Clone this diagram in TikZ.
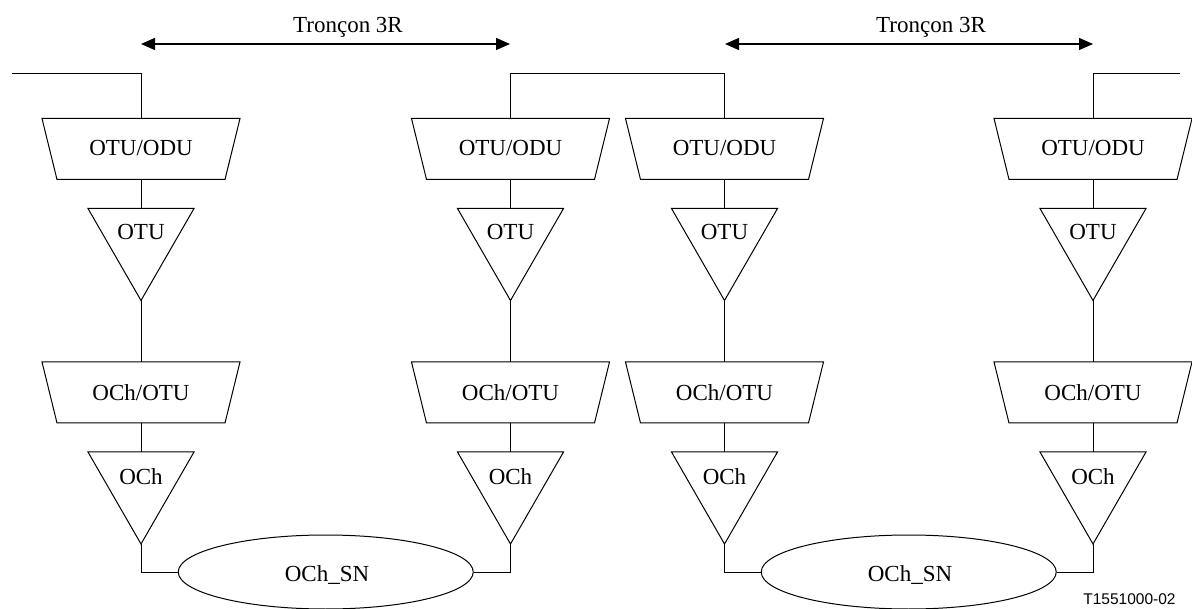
\documentclass[tikz,border=0pt]{standalone}
\usepackage{fontspec}
\setmainfont{Liberation Serif}
\newfontfamily\codefont{Liberation Sans}
\usetikzlibrary{arrows.meta,shapes.geometric}
\begin{document}
\begin{tikzpicture}[x=1pt,y=-1pt,line width=1pt,
  font=\fontsize{23}{27}\selectfont,
  blockbox/.style={minimum width=197pt,minimum height=60pt,inner sep=0pt},
  triblock/.style={minimum width=105pt,minimum height=91pt,inner sep=0pt},
  tag/.style={inner sep=0pt,anchor=base},
  oval/.style={draw,ellipse,minimum width=295pt,minimum height=74pt,inner sep=0pt},
  span/.style={{Triangle[length=14pt,width=12pt]}-{Triangle[length=14pt,width=12pt]},line width=1.4pt}]
\useasboundingbox (0,0) rectangle (1192,609);

% four terminal columns: adaptation (trapezium) above termination (triangle)
\foreach \c/\x in {1/141,2/510.5,3/724.5,4/1093}{
  \node[blockbox] (a\c) at (\x,149) {};
  \node[tag] (at\c) at (\x,155.6) {OTU/ODU};
  \node[triblock] (b\c) at (\x,254.5) {};
  \node[tag] (bt\c) at (\x,239.6) {OTU};
  \node[blockbox] (c\c) at (\x,392.5) {};
  \node[tag] (ct\c) at (\x,400.6) {OCh/OTU};
  \node[triblock] (d\c) at (\x,498) {};
  \node[tag] (dt\c) at (\x,484.8) {OCh};
  \draw (a\c.north west) -- (a\c.north east) -- ([xshift=-15pt]a\c.south east)
        -- ([xshift=15pt]a\c.south west) -- cycle;
  \draw (c\c.north west) -- (c\c.north east) -- ([xshift=-15pt]c\c.south east)
        -- ([xshift=15pt]c\c.south west) -- cycle;
  \draw (b\c.north west) -- (b\c.north east) -- (b\c.south) -- cycle;
  \draw (d\c.north west) -- (d\c.north east) -- (d\c.south) -- cycle;
  \draw (a\c.south) -- (b\c.north);
  \draw (b\c.south) -- (c\c.north);
  \draw (c\c.south) -- (d\c.north);
}

% optical channel subnetworks
\node[oval] (e1) at (325.75,572) {};
\node[tag] (et1) at (327,581) {OCh\_SN};
\node[oval] (e2) at (908.75,572) {};
\node[tag] (et2) at (910,581) {OCh\_SN};
\draw (d1.south) |- (e1.west);
\draw (d2.south) |- (e1.east);
\draw (d3.south) |- (e2.west);
\draw (d4.south) |- (e2.east);

% client links on top
\coordinate (inL) at (12,74);
\coordinate (mid) at (510.5,74);
\coordinate (outR) at (1180,74);
\draw (inL) -| (a1.north);
\draw (a2.north) -- (mid) -| (a3.north);
\draw (a4.north) |- (outR);

% 3R section extents
\coordinate (s1a) at (141,44);
\coordinate (s1b) at (510,44);
\coordinate (s2a) at (725,44);
\coordinate (s2b) at (1093,44);
\draw[span] (s1a) -- (s1b);
\draw[span] (s2a) -- (s2b);
\node[tag] (r1) at (348,33) {Tronçon 3R};
\node[tag] (r2) at (931,33) {Tronçon 3R};

\node[tag,font=\codefont\fontsize{15.5}{18}\selectfont] (ref) at (1129.5,604.5) {T1551000-02};
\end{tikzpicture}
\end{document}
